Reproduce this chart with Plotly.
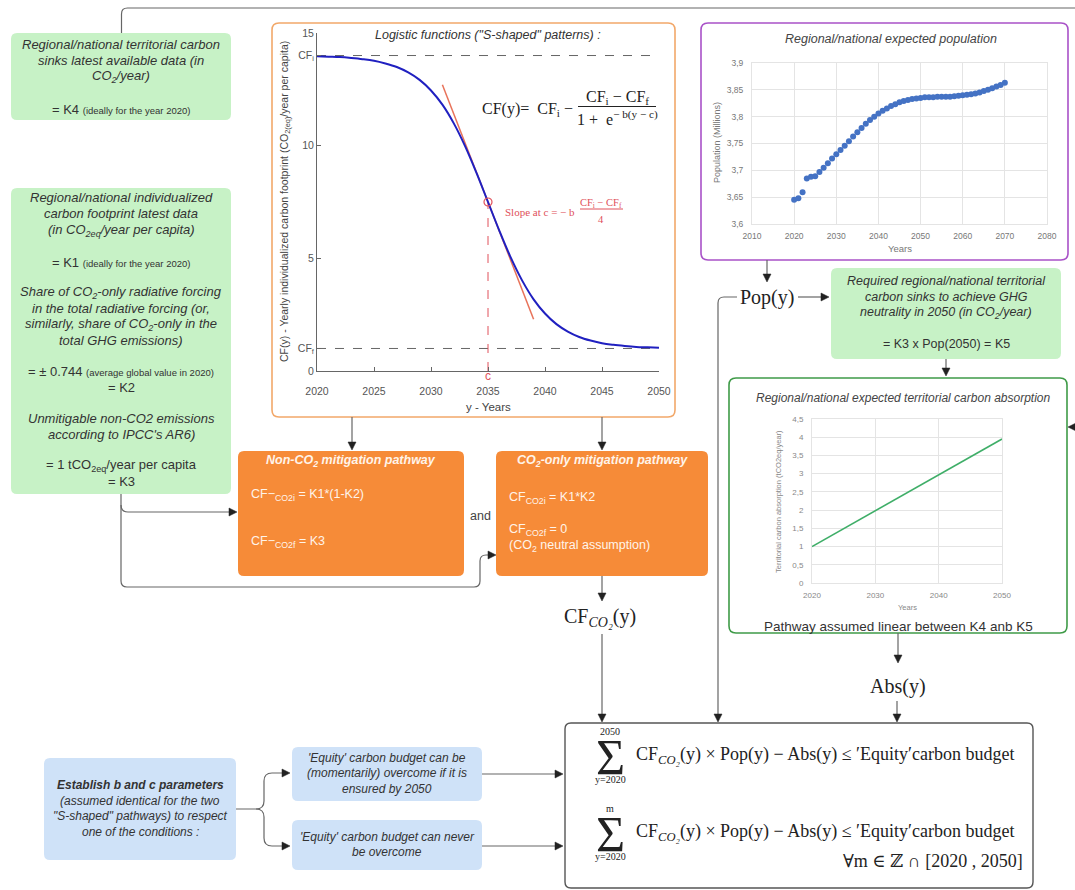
import plotly.graph_objects as go

W, H = 1075, 890
SANS = "Liberation Sans, Arial, sans-serif"
SERIF = "Liberation Serif, DejaVu Serif, serif"

# ---------------- data ----------------
logistic_years = list(range(2020, 2051))
logistic_cf = [13.97, 13.95, 13.93, 13.89, 13.84, 13.77, 13.65, 13.49, 13.25, 12.92,
               12.45, 11.82, 10.99, 9.97, 8.78, 7.50, 6.22, 5.03, 4.01, 3.18,
               2.55, 2.08, 1.75, 1.51, 1.35, 1.23, 1.16, 1.11, 1.07, 1.05, 1.03]
cf_initial = 14
cf_final = 1
c_year = 2035
c_value = 7.5
tangent_years = [2031, 2039]
tangent_cf = [12.7, 2.3]
logistic_xticks = [2020, 2025, 2030, 2035, 2040, 2045, 2050]
logistic_yticks = [0, 1, 5, 10, 14, 15]
logistic_yticktext = ["0", "CF<sub>f</sub>", "5", "10", "CF<sub>i</sub>", "15"]

pop_years = list(range(2020, 2071))
pop_millions = [3.645, 3.648, 3.659, 3.685, 3.688, 3.689, 3.697, 3.705, 3.713, 3.722,
                3.730, 3.738, 3.746, 3.754, 3.763, 3.771, 3.779, 3.787, 3.794, 3.800,
                3.806, 3.811, 3.815, 3.820, 3.823, 3.827, 3.829, 3.831, 3.833, 3.834,
                3.835, 3.836, 3.836, 3.836, 3.837, 3.837, 3.837, 3.837, 3.838, 3.839,
                3.840, 3.841, 3.842, 3.843, 3.845, 3.848, 3.850, 3.853, 3.856, 3.859,
                3.863]
pop_xticks = [2010, 2020, 2030, 2040, 2050, 2060, 2070, 2080]
pop_yticks = [3.6, 3.65, 3.7, 3.75, 3.8, 3.85, 3.9]
pop_yticktext = ["3,6", "3,65", "3,7", "3,75", "3,8", "3,85", "3,9"]

abs_years = [2020, 2050]
abs_values = [1.0, 3.95]
abs_xticks = [2020, 2030, 2040, 2050]
abs_yticks = [0, 0.5, 1, 1.5, 2, 2.5, 3, 3.5, 4, 4.5]
abs_yticktext = ["0", "0,5", "1", "1,5", "2", "2,5", "3", "3,5", "4", "4,5"]

# ---------------- helpers (pixel coordinates, origin top-left) ----------------
shapes = []
annotations = []


def rrect(x0, y0, x1, y1, r, fill, line_color=None, lw=0):
    p = (f"M {x0+r},{y0} L {x1-r},{y0} Q {x1},{y0} {x1},{y0+r} L {x1},{y1-r} "
         f"Q {x1},{y1} {x1-r},{y1} L {x0+r},{y1} Q {x0},{y1} {x0},{y1-r} "
         f"L {x0},{y0+r} Q {x0},{y0} {x0+r},{y0} Z")
    shapes.append(dict(type="path", path=p, xref="x", yref="y", fillcolor=fill,
                       line=dict(color=line_color or fill, width=lw), layer="below"))


def conn(p, color="#666", width=1.2):
    shapes.append(dict(type="path", path=p, xref="x", yref="y",
                       line=dict(color=color, width=width), layer="below"))


def head(x, y, d, ln=8, hw=4):
    if d == "down":
        p = f"M {x},{y} L {x-hw},{y-ln} L {x+hw},{y-ln} Z"
    elif d == "right":
        p = f"M {x},{y} L {x-ln},{y-hw} L {x-ln},{y+hw} Z"
    elif d == "left":
        p = f"M {x},{y} L {x+ln},{y-hw} L {x+ln},{y+hw} Z"
    else:
        p = f"M {x},{y} L {x-hw},{y+ln} L {x+hw},{y+ln} Z"
    shapes.append(dict(type="path", path=p, xref="x", yref="y", fillcolor="#222",
                       line=dict(color="#222", width=0.5), layer="below"))


def hline(x0, x1, y, color, width=1):
    shapes.append(dict(type="line", x0=x0, x1=x1, y0=y, y1=y, xref="x", yref="y",
                       line=dict(color=color, width=width), layer="below"))


def T(x, y, text, size=12, color="#333", family=SANS, xanchor="center",
      yanchor="middle", angle=0):
    annotations.append(dict(x=x, y=y, xref="x", yref="y", text=text, showarrow=False,
                            font=dict(size=size, color=color, family=family),
                            xanchor=xanchor, yanchor=yanchor, textangle=angle))


GREEN = "#c7f2c6"
ORANGE = "#f68b38"
BLUE = "#cfe2f8"

# ---------------- boxes ----------------
rrect(11, 33, 231, 120, 6, GREEN)
rrect(11, 188, 231, 494, 6, GREEN)
rrect(272, 23, 675, 417, 7, "white", "#f2a86a", 1.6)
rrect(701, 23, 1068, 260, 7, "white", "#a952c8", 1.6)
rrect(831, 268, 1061, 359, 6, GREEN)
rrect(729, 378, 1067, 633, 7, "white", "#3f9b48", 1.6)
rrect(238, 451, 464, 576, 6, ORANGE)
rrect(496, 451, 708, 576, 6, ORANGE)
rrect(565, 723, 1033, 888, 6, "white", "#555", 1.4)
rrect(44, 758, 236, 860, 6, BLUE)
rrect(292, 747, 482, 801, 6, BLUE)
rrect(292, 820, 482, 870, 6, BLUE)

# ---------------- connectors ----------------
conn("M 121.5,33 L 121.5,14 Q 121.5,8 127.5,8 L 1075,8")
conn("M 121,494 L 121,581 Q 121,587 127,587 L 474,587 Q 480,587 480,581 "
     "L 480,561 Q 480,555 486,555 L 489,555")
head(496, 555, "right")
conn("M 121,505 Q 121,512 128,512 L 230,512")
head(237, 512, "right")
conn("M 352,417 L 352,443")
head(352, 450, "down")
conn("M 602,417 L 602,443")
head(602, 450, "down")
conn("M 602,576 L 602,594")
head(602, 601, "down")
conn("M 602,634 L 602,715")
head(602, 722, "down")
conn("M 767,260 L 767,275")
head(767, 282, "down")
conn("M 737,297 L 724,297 Q 718,297 718,303 L 718,715")
head(718, 722, "down")
conn("M 798,297 L 822,297")
head(829, 297, "right")
conn("M 946,359 L 946,369")
head(946, 376, "down")
head(1068, 427, "left")
conn("M 898,633 L 898,656")
head(898, 663, "down")
conn("M 897,701 L 897,715")
head(897, 722, "down")
conn("M 236,809 L 256,809 Q 264,809 264,801 L 264,781 Q 264,773 272,773 L 283,773")
head(290, 773, "right")
conn("M 256,809 Q 264,809 264,817 L 264,838 Q 264,846 272,846 L 283,846")
head(290, 846, "right")
conn("M 482,774 L 556,774")
head(563, 774, "right")
conn("M 482,846 L 556,846")
head(563, 846, "right")

# ---------------- green box texts ----------------
SM = "<span style='font-size:9.5px'>"
GS = 13
T(121, 44, "<i>Regional/national territorial carbon</i>", GS)
T(121, 60, "<i>sinks latest available data (in</i>", GS)
T(121, 76, "<i>CO<sub>2</sub>/year)</i>", GS)
T(121, 109, "= K4 " + SM + "(ideally for the year 2020)</span>", GS)

g2 = [
    (197, "<i>Regional/national individualized</i>"),
    (213, "<i>carbon footprint latest data</i>"),
    (230, "<i>(in CO<sub>2eq</sub>/year per capita)</i>"),
    (262, "= K1 " + SM + "(ideally for the year 2020)</span>"),
    (292, "<i>Share of CO<sub>2</sub>-only radiative forcing</i>"),
    (308, "<i>in the total radiative forcing (or,</i>"),
    (324, "<i>similarly, share of CO<sub>2</sub>-only in the</i>"),
    (340, "<i>total GHG emissions)</i>"),
    (371, "= ± 0.744 " + SM + "(average global value in 2020)</span>"),
    (387, "= K2"),
    (418, "<i>Unmitigable non-CO2 emissions</i>"),
    (434, "<i>according to IPCC's AR6)</i>"),
    (465, "= 1 tCO<sub>2eq</sub>/year per capita"),
    (481, "= K3"),
]
for yy, tx in g2:
    T(121, yy, tx, GS)

T(946, 281, "<i>Required regional/national territorial</i>", 12.5)
T(946, 297, "<i>carbon sinks to achieve GHG</i>", 12.5)
T(946, 313, "<i>neutrality in 2050 (in CO<sub>2</sub>/year)</i>", 12.5)
T(946, 344, "= K3 x Pop(2050) = K5", 12.5)

# ---------------- orange box texts ----------------
WT = "#fff4ea"
T(351, 461, "<b><i>Non-CO<sub>2</sub> mitigation pathway</i></b>", 12.5, WT)
T(249, 495, "CF−<sub>CO2i</sub> = K1*(1-K2)", 12.5, WT, xanchor="left")
T(249, 542, "CF−<sub>CO2f</sub> = K3", 12.5, WT, xanchor="left")
T(602, 461, "<b><i>CO<sub>2</sub>-only mitigation pathway</i></b>", 12.5, WT)
T(507, 498, "CF<sub>CO2i</sub> = K1*K2", 12.5, WT, xanchor="left")
T(507, 530, "CF<sub>CO2f</sub> = 0", 12.5, WT, xanchor="left")
T(507, 546, "(CO<sub>2</sub> neutral assumption)", 12.5, WT, xanchor="left")
T(480, 516, "and", 12.5, "#444")

# ---------------- blue box texts ----------------
T(140, 785, "<b><i>Establish b and c parameters</i></b>")
T(140, 801, "<i>(assumed identical for the two</i>")
T(140, 816, "<i>\"S-shaped\" pathways) to respect</i>")
T(140, 832, "<i>one of the conditions :</i>")
T(387, 758, "<i>'Equity' carbon budget can be</i>")
T(387, 773, "<i>(momentarily) overcome if it is</i>")
T(387, 789, "<i>ensured by 2050</i>")
T(387, 837, "<i>'Equity' carbon budget can never</i>")
T(387, 852, "<i>be overcome</i>")

# ---------------- math labels ----------------
T(767, 297, "Pop(y)", 20, "#222", SERIF)
T(898, 686, "Abs(y)", 20, "#222", SERIF)
T(600, 617, "CF<sub><i>CO₂</i></sub>(y)", 20, "#222", SERIF)

# bottom box formulas
for cy, top in [(755, "2050"), (832, "m")]:
    T(610, cy + 2, "Σ", 50, "#222", SERIF)
    T(610, cy - 24, top, 10, "#222", SERIF)
    T(610, cy + 24, "y=2020", 10, "#222", SERIF)
    T(634, cy, "CF<sub><i>CO₂</i></sub>(y) × Pop(y) − Abs(y) ≤ ′Equity′carbon budget",
      18, "#222", SERIF, xanchor="left")
T(1025, 861, "∀m ∈ ℤ ∩ [2020 , 2050]", 18, "#222", SERIF, xanchor="right")

# ---------------- logistic chart texts ----------------
T(488, 35, "<i>Logistic functions (\"S-shaped\" patterns) :</i>", 12.5, "#333")
T(575, 109, "CF(y)=  CF<sub>i</sub> −", 16, "#222", SERIF, xanchor="right")
T(617, 97, "CF<sub>i</sub> − CF<sub>f</sub>", 16, "#222", SERIF)
hline(578, 656, 106.5, "#222", 1)
T(617, 118, "1 +  e<sup>− b(y − c)</sup>", 16, "#222", SERIF)
RED = "#e0505a"
T(577, 212, "Slope at c = − b", 11, RED, SERIF, xanchor="right")
T(601, 203, "CF<sub>i</sub> − CF<sub>f</sub>", 10.5, RED, SERIF)
hline(580, 623, 209, RED, 1)
T(601, 219, "4", 10.5, RED, SERIF)
T(488, 376, "c", 12, RED)
T(488, 407, "y - Years", 11.5, "#444")
T(285, 202, "CF(y) - Yearly individualized carbon footprint (CO<sub>2(eq)</sub>/year per capita)",
  10.5, "#444", angle=-90)

# population texts
T(891, 39, "<i>Regional/national expected population</i>", 12.5, "#444")
T(900, 248, "Years", 9.5, "#777")
T(717, 143, "Population (Millions)", 9, "#777", angle=-90)

# absorption texts
T(903, 398, "<i>Regional/national expected territorial carbon absorption</i>", 12, "#444")
T(907, 607, "Years", 7.5, "#888")
T(778, 502, "Territorial carbon absorption (tCO2eq/year)", 7.5, "#888", angle=-90)
T(898, 626, "Pathway assumed linear between K4 anb K5", 13.5, "#333")

# ---------------- traces ----------------
fig = go.Figure()
fig.add_trace(go.Scatter(x=[0], y=[0], mode="markers", marker=dict(opacity=0),
                         hoverinfo="skip", showlegend=False, xaxis="x", yaxis="y"))

fig.add_trace(go.Scatter(x=[2020, 2050], y=[cf_initial, cf_initial], mode="lines",
                         line=dict(color="#666", width=1, dash="dash"),
                         xaxis="x2", yaxis="y2", showlegend=False))
fig.add_trace(go.Scatter(x=[2020, 2050], y=[cf_final, cf_final], mode="lines",
                         line=dict(color="#666", width=1, dash="dash"),
                         xaxis="x2", yaxis="y2", showlegend=False))
fig.add_trace(go.Scatter(x=[c_year, c_year], y=[0, c_value], mode="lines",
                         line=dict(color=RED, width=1, dash="dash"),
                         xaxis="x2", yaxis="y2", showlegend=False))
fig.add_trace(go.Scatter(x=tangent_years, y=tangent_cf, mode="lines",
                         line=dict(color="#e8735a", width=1.5),
                         xaxis="x2", yaxis="y2", showlegend=False))
fig.add_trace(go.Scatter(x=logistic_years, y=logistic_cf, mode="lines",
                         line=dict(color="#2020c0", width=2, shape="spline"),
                         xaxis="x2", yaxis="y2", showlegend=False))
fig.add_trace(go.Scatter(x=[c_year], y=[c_value], mode="markers",
                         marker=dict(symbol="circle-open", size=8, color=RED, line=dict(width=1.2)),
                         xaxis="x2", yaxis="y2", showlegend=False))

fig.add_trace(go.Scatter(x=pop_years, y=pop_millions, mode="markers",
                         marker=dict(color="#4472c4", size=6),
                         xaxis="x3", yaxis="y3", showlegend=False))

fig.add_trace(go.Scatter(x=abs_years, y=abs_values, mode="lines",
                         line=dict(color="#3fae68", width=1.6),
                         xaxis="x4", yaxis="y4", showlegend=False))


def dom_x(a, b):
    return [a / W, b / W]


def dom_y(top, bottom):
    return [1 - bottom / H, 1 - top / H]


grid = "#e4e4e4"
fig.update_layout(
    width=W, height=H, autosize=False,
    margin=dict(l=0, r=0, t=0, b=0, pad=0, autoexpand=False),
    paper_bgcolor="white", plot_bgcolor="rgba(0,0,0,0)",
    showlegend=False,
    shapes=shapes, annotations=annotations,
    xaxis=dict(range=[0, W], visible=False, fixedrange=True, domain=[0, 1], automargin=False),
    yaxis=dict(range=[H, 0], visible=False, fixedrange=True, domain=[0, 1], automargin=False),
    xaxis2=dict(domain=dom_x(317, 659), range=[2020, 2050], anchor="y2", automargin=False,
                tickvals=logistic_xticks, ticks="inside", ticklen=4, tickcolor="#666",
                showline=True, linecolor="#666", showgrid=False, zeroline=False,
                tickfont=dict(size=10.5, color="#555", family=SANS), ticklabelstandoff=10),
    yaxis2=dict(domain=dom_y(33, 371), range=[0, 15], anchor="x2", automargin=False,
                tickvals=logistic_yticks, ticktext=logistic_yticktext,
                ticks="inside", ticklen=4, tickcolor="#666",
                showline=True, linecolor="#666", showgrid=False, zeroline=False,
                tickfont=dict(size=10.5, color="#555", family=SANS)),
    xaxis3=dict(domain=dom_x(752, 1047), range=[2010, 2080], anchor="y3", automargin=False,
                tickvals=pop_xticks, showgrid=True, gridcolor=grid, zeroline=False,
                showline=True, linecolor=grid, mirror=True, ticks="",
                tickfont=dict(size=8.5, color="#777", family=SANS), ticklabelstandoff=4),
    yaxis3=dict(domain=dom_y(63, 224), range=[3.6, 3.9], anchor="x3", automargin=False,
                tickvals=pop_yticks, ticktext=pop_yticktext,
                showgrid=True, gridcolor=grid, zeroline=False,
                showline=True, linecolor=grid, mirror=True, ticks="",
                tickfont=dict(size=8.5, color="#777", family=SANS), ticklabelstandoff=6),
    xaxis4=dict(domain=dom_x(812, 1002), range=[2020, 2050], anchor="y4", automargin=False,
                tickvals=abs_xticks, showgrid=True, gridcolor=grid, zeroline=False,
                showline=True, linecolor=grid, mirror=True, ticks="",
                tickfont=dict(size=8, color="#888", family=SANS), ticklabelstandoff=4),
    yaxis4=dict(domain=dom_y(419, 583), range=[0, 4.5], anchor="x4", automargin=False,
                tickvals=abs_yticks, ticktext=abs_yticktext,
                showgrid=True, gridcolor=grid, zeroline=False,
                showline=True, linecolor=grid, mirror=True, ticks="",
                tickfont=dict(size=8, color="#888", family=SANS), ticklabelstandoff=6),
)

fig.write_html("out.html", config={"displayModeBar": False, "staticPlot": True},
               post_script="document.body.style.margin='0';")
